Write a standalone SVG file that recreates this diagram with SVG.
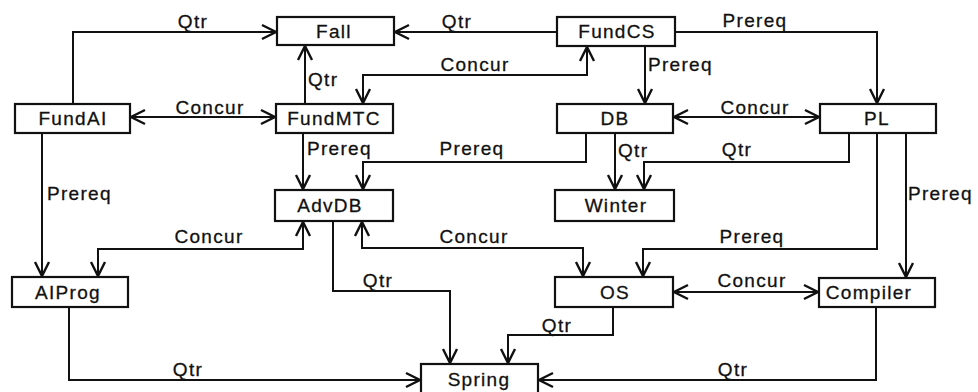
<svg xmlns="http://www.w3.org/2000/svg" width="978" height="392" viewBox="0 0 978 392">
<style>
.box{fill:#fff;stroke:#111;stroke-width:2.2}
.t{font-family:"Liberation Sans",Arial,sans-serif;font-size:19px;letter-spacing:1.3px;fill:#111;text-anchor:middle;stroke:#111;stroke-width:0.3}
.l{font-family:"Liberation Sans",Arial,sans-serif;font-size:19px;letter-spacing:1.3px;fill:#111;stroke:#111;stroke-width:0.3}
.c{fill:none;stroke:#111;stroke-width:2}
.u{marker-end:url(#ah)}
.b{marker-start:url(#ah);marker-end:url(#ah)}
</style>
<defs>
<marker id="ah" markerUnits="userSpaceOnUse" markerWidth="22" markerHeight="22" viewBox="-17 -11 22 22" refX="0" refY="0" orient="auto-start-reverse">
<path d="M-14,-7 L0,0 L-14,7" fill="none" stroke="#111" stroke-width="2.4"/>
</marker>
</defs>
<rect width="978" height="392" fill="#fff"/>
<g id="connectors">
<path class="c u" d="M73,104 V32 H276"/>
<path class="c u" d="M557,32 H395"/>
<path class="c u" d="M675,32 H877 V103"/>
<path class="c b" d="M363,103 V75 H587 V47"/>
<path class="c u" d="M305,104 V46"/>
<path class="c u" d="M645,46 V103"/>
<path class="c b" d="M131,117 H275"/>
<path class="c b" d="M674,117 H819"/>
<path class="c u" d="M303,133 V189"/>
<path class="c u" d="M586,133 V162 H363 V189"/>
<path class="c u" d="M615,133 V189"/>
<path class="c u" d="M849,133 V162 H644 V189"/>
<path class="c u" d="M42,133 V276"/>
<path class="c u" d="M906,133 V277"/>
<path class="c u" d="M877,133 V249 H643 V276"/>
<path class="c b" d="M303,222 V249 H98 V276"/>
<path class="c b" d="M362,222 V248 H583 V276"/>
<path class="c u" d="M333,221 V291 H450 V363"/>
<path class="c b" d="M674,292 H818"/>
<path class="c u" d="M613,307 V335 H508 V363"/>
<path class="c u" d="M69,307 V380 H420"/>
<path class="c u" d="M876,307 V380 H539"/>
<g id="labels">
<text class="l" x="193" y="28" text-anchor="middle">Qtr</text>
<text class="l" x="457" y="28" text-anchor="middle">Qtr</text>
<text class="l" x="755" y="27" text-anchor="middle">Prereq</text>
<text class="l" x="475" y="71" text-anchor="middle">Concur</text>
<text class="l" x="648" y="71">Prereq</text>
<text class="l" x="308" y="86">Qtr</text>
<text class="l" x="210" y="114" text-anchor="middle">Concur</text>
<text class="l" x="755" y="114" text-anchor="middle">Concur</text>
<text class="l" x="307" y="155">Prereq</text>
<text class="l" x="472" y="155" text-anchor="middle">Prereq</text>
<text class="l" x="618" y="157">Qtr</text>
<text class="l" x="737" y="156" text-anchor="middle">Qtr</text>
<text class="l" x="47" y="200">Prereq</text>
<text class="l" x="908" y="200">Prereq</text>
<text class="l" x="209" y="243" text-anchor="middle">Concur</text>
<text class="l" x="474" y="243" text-anchor="middle">Concur</text>
<text class="l" x="752" y="243" text-anchor="middle">Prereq</text>
<text class="l" x="378" y="287" text-anchor="middle">Qtr</text>
<text class="l" x="752" y="287" text-anchor="middle">Concur</text>
<text class="l" x="557" y="332" text-anchor="middle">Qtr</text>
<text class="l" x="188" y="376" text-anchor="middle">Qtr</text>
<text class="l" x="733" y="376" text-anchor="middle">Qtr</text>
</g>
</g>
<g id="Fall"><rect class="box" x="277" y="17" width="117" height="28"/><text class="t" x="334" y="38">Fall</text></g>
<g id="FundCS"><rect class="box" x="557" y="17" width="118" height="29"/><text class="t" x="617" y="38">FundCS</text></g>
<g id="FundAI"><rect class="box" x="15" y="104" width="115" height="29"/><text class="t" x="73" y="125">FundAI</text></g>
<g id="FundMTC"><rect class="box" x="276" y="104" width="117" height="29"/><text class="t" x="334" y="125">FundMTC</text></g>
<g id="DB"><rect class="box" x="557" y="104" width="116" height="29"/><text class="t" x="615" y="125">DB</text></g>
<g id="PL"><rect class="box" x="820" y="104" width="116" height="29"/><text class="t" x="877" y="125">PL</text></g>
<g id="AdvDB"><rect class="box" x="275" y="190" width="118" height="31"/><text class="t" x="330" y="212">AdvDB</text></g>
<g id="Winter"><rect class="box" x="555" y="190" width="119" height="31"/><text class="t" x="616" y="212">Winter</text></g>
<g id="AIProg"><rect class="box" x="12" y="277" width="116" height="30"/><text class="t" x="68" y="299">AIProg</text></g>
<g id="OS"><rect class="box" x="555" y="277" width="118" height="30"/><text class="t" x="615" y="299">OS</text></g>
<g id="Compiler"><rect class="box" x="819" y="278" width="116" height="29"/><text class="t" x="869" y="299">Compiler</text></g>
<g id="Spring"><rect class="box" x="421" y="364" width="117" height="30"/><text class="t" x="479" y="386">Spring</text></g>
</svg>
